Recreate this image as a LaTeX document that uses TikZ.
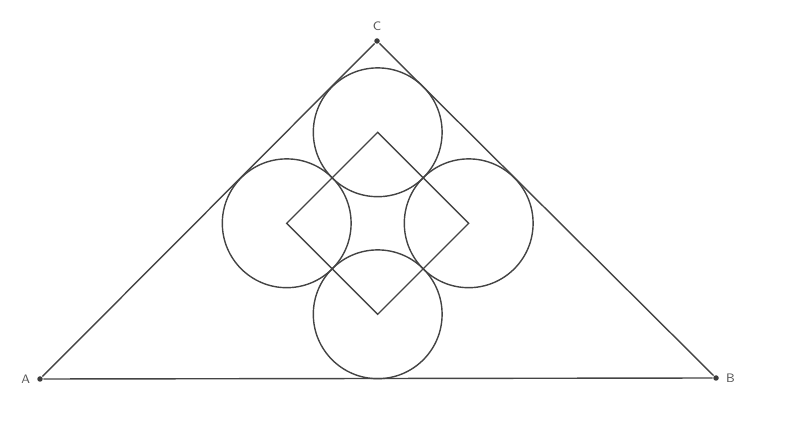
\documentclass[tikz,border=0pt]{standalone}
\usepackage{tikz}

\begin{document}
\begin{tikzpicture}[line width=.8pt, color={rgb,255:red,68;green,68;blue,68}]
\tikzset{pt/.style={circle, fill={rgb,255:red,60;green,60;blue,60}, inner sep=0pt, minimum size=.11cm, label distance=.07cm},
  ring/.style={circle, draw, minimum size=2.576cm, inner sep=0pt},
  lbl/.style={font=\sffamily\scriptsize, text={rgb,255:red,85;green,85;blue,85}}}
\useasboundingbox (0,0) rectangle (16,8.58);
\node [pt, label={[lbl]left:A}] (A) at (0.8,1.0) {};
\node [pt, label={[lbl]right:B}] (B) at (14.32,1.02) {};
\node [pt, label={[lbl]above:C}] (C) at (7.54,7.76) {};

\coordinate (q1) at (7.554,5.934);
\coordinate (q2) at (5.734,4.114);
\coordinate (q3) at (7.554,2.294);
\coordinate (q4) at (9.374,4.114);

\node [ring] (c1) at (q1) {};
\node [ring] (c2) at (q2) {};
\node [ring] (c3) at (q3) {};
\node [ring] (c4) at (q4) {};

\draw (A) -- (B);
\draw (B) -- (C);
\draw (C) -- (A);
\draw (q1) -- (q2) -- (q3) -- (q4) -- cycle;
\end{tikzpicture}
\end{document}
